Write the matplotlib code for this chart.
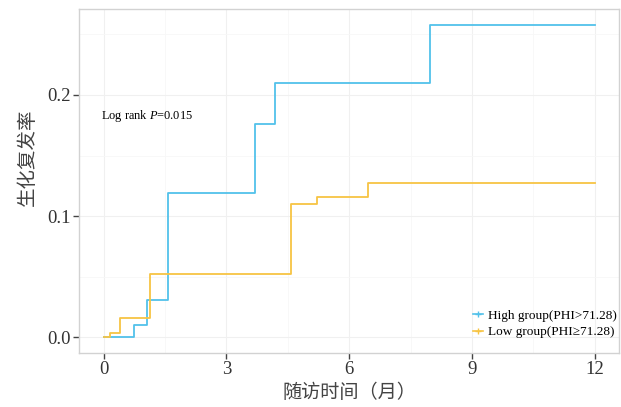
import matplotlib
matplotlib.use('Agg')
import matplotlib.pyplot as plt
from matplotlib.lines import Line2D
from matplotlib.ticker import MultipleLocator

# ── data: cumulative biochemical recurrence (step curves) ─────────────
high_t = [0, 0.75, 1.05, 1.57, 3.70, 4.20, 7.97, 12]
high_y = [0, 0.010, 0.031, 0.119, 0.176, 0.210, 0.258, 0.258]
low_t = [0, 0.16, 0.39, 1.13, 4.57, 5.22, 6.45, 12]
low_y = [0, 0.004, 0.016, 0.052, 0.110, 0.116, 0.127, 0.127]

x_ticks = [0, 3, 6, 9, 12]
y_ticks = [0.0, 0.1, 0.2]
labels = ['High group(PHI>71.28)', 'Low group(PHI\u226571.28)']
blue = '#52C1EA'
gold = '#F7C443'

plt.rcParams['mathtext.fontset'] = 'custom'
plt.rcParams['mathtext.rm'] = 'Liberation Serif'
plt.rcParams['mathtext.it'] = 'Liberation Serif:italic'

serif = ['Liberation Serif', 'Noto Sans CJK SC']
cjk = ['Noto Sans CJK SC', 'Liberation Serif']

fig = plt.figure(figsize=(6.21, 4.07), dpi=100)
ax = fig.add_axes([0.1272, 0.1327, 0.870, 0.8452])

ax.step(high_t, high_y, where='post', color=blue, lw=1.3, zorder=3)
ax.step(low_t, low_y, where='post', color=gold, lw=1.3, zorder=3)

ax.set_xlim(-0.6, 12.6)
ax.set_ylim(-0.0129, 0.2709)
ax.set_xticks(x_ticks)
ax.set_yticks(y_ticks)
ax.set_yticklabels([f'{v:.1f}' for v in y_ticks])
ax.xaxis.set_minor_locator(MultipleLocator(1.5))
ax.yaxis.set_minor_locator(MultipleLocator(0.05))
ax.grid(which='major', color='#F0F0F0', lw=0.8, zorder=0)
ax.grid(which='minor', color='#F7F7F7', lw=0.6, zorder=0)
ax.tick_params(which='minor', length=0)
ax.tick_params(which='major', length=4, width=1, color='#444444',
               labelsize=13.5, labelcolor='#333333', pad=2)
for lab in ax.get_xticklabels() + ax.get_yticklabels():
    lab.set_family(serif)
for s in ax.spines.values():
    s.set_color('#D2D2D2')
    s.set_linewidth(1.0)

ax.set_xlabel('随访时间（月）', fontsize=13.8, family=cjk, color='#444444')
ax.xaxis.set_label_coords(0.5, -0.085)
ax.set_ylabel('生化复发率', fontsize=14, family=cjk, color='#444444')
ax.yaxis.set_label_coords(-0.076, 0.57)

ax.text(-0.07, 0.183, 'Log rank $\\it{P}$=0.015', fontsize=8.9,
        family=serif, va='center', ha='left')

handles = [Line2D([], [], color=blue, lw=1.2, marker='+', ms=4),
           Line2D([], [], color=gold, lw=1.2, marker='+', ms=4)]
leg = ax.legend(handles, labels, loc='lower right', bbox_to_anchor=(1.01, 0.02),
                frameon=False, handlelength=0.7, handletextpad=0.4,
                labelspacing=0.32, borderaxespad=0.2,
                prop={'family': serif, 'size': 9.5})

fig.savefig('out.png', dpi=100)
